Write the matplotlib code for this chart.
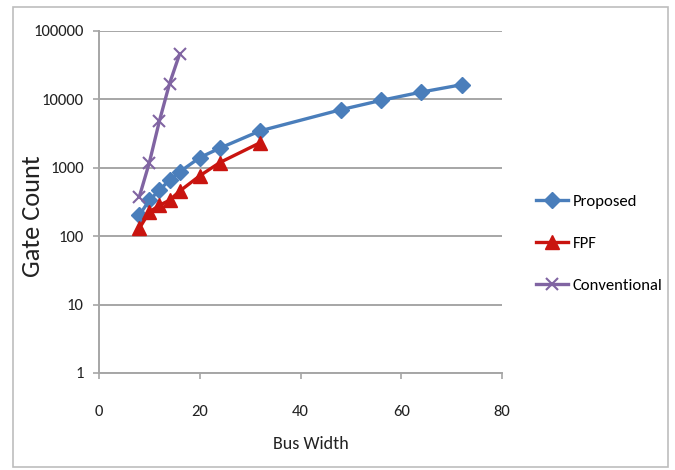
import matplotlib
matplotlib.use('Agg')
import matplotlib.pyplot as plt
from matplotlib.patches import Rectangle

# data
proposed_x = [8, 10, 12, 14, 16, 20, 24, 32, 48, 56, 64, 72]
proposed_y = [203, 336, 470, 665, 870, 1410, 1940, 3470, 7070, 9670, 12800, 16400]

fpf_x = [8, 10, 12, 14, 16, 20, 24, 32]
fpf_y = [130, 226, 283, 336, 455, 764, 1195, 2330]

conv_x = [8, 10, 12, 14, 16]
conv_y = [376, 1195, 4860, 17000, 46000]

x_ticks = [0, 20, 40, 60, 80]
y_ticks = [1, 10, 100, 1000, 10000, 100000]

plt.rcParams['font.family'] = ['Carlito', 'Lato', 'DejaVu Sans']
plt.rcParams['font.size'] = 12

W, H = 675, 470
fig = plt.figure(figsize=(W / 100, H / 100), dpi=100)
ax = fig.add_axes([99 / W, 1 - 373 / H, (502 - 99) / W, (373 - 31) / H])

# outer frame round the chart
fig.patches.append(Rectangle((13 / W, 1 - 467 / H), 655 / W, 460 / H,
                             transform=fig.transFigure, fill=False,
                             edgecolor='#bdbdbd', linewidth=1.2))

ax.plot(proposed_x, proposed_y, color='#4a7ebb', linewidth=2.4, marker='D',
        markersize=8, label='Proposed')
ax.plot(fpf_x, fpf_y, color='#c9140f', linewidth=2.4, marker='^',
        markersize=9.5, label='FPF')
ax.plot(conv_x, conv_y, color='#8064a2', linewidth=2.4, marker='x',
        markersize=9, markeredgewidth=1.5, label='Conventional')

ax.set_yscale('log')
ax.set_xlim(0, 80)
ax.set_ylim(1, 100000)
ax.set_xticks(x_ticks)
ax.set_xticklabels([str(v) for v in x_ticks])
ax.set_yticks(y_ticks)
ax.set_yticklabels([str(v) for v in y_ticks])
ax.minorticks_off()

ax.grid(axis='y', color='#a6a6a6', linewidth=1.4)
ax.set_axisbelow(True)
for s in ['top', 'right']:
    ax.spines[s].set_visible(False)
for s in ['left', 'bottom']:
    ax.spines[s].set_color('#a6a6a6')
    ax.spines[s].set_linewidth(1.4)
ax.tick_params(axis='both', colors='#a6a6a6', labelcolor='#222222',
               length=4, width=1.2, labelsize=12)
ax.tick_params(axis='x', pad=19)
ax.tick_params(axis='y', pad=7)

ax.set_xlabel('Bus Width', fontsize=13, color='#222222')
ax.set_ylabel('Gate Count', fontsize=19, color='#222222')
# place axis titles where the reference has them (pixel positions)
ax.xaxis.set_label_coords(311 / W, 1 - 444 / H, transform=fig.transFigure)
ax.yaxis.set_label_coords(33 / W, 1 - 216 / H, transform=fig.transFigure)
ax.xaxis.label.set_va('center')
ax.yaxis.label.set_va('center')

ax.legend(loc='upper left', bbox_to_anchor=(521 / W, 1 - 179 / H),
          bbox_transform=fig.transFigure, frameon=False, handlelength=1.9,
          handletextpad=0.3, labelspacing=1.65, fontsize=12)

fig.savefig('out.png', dpi=100)
